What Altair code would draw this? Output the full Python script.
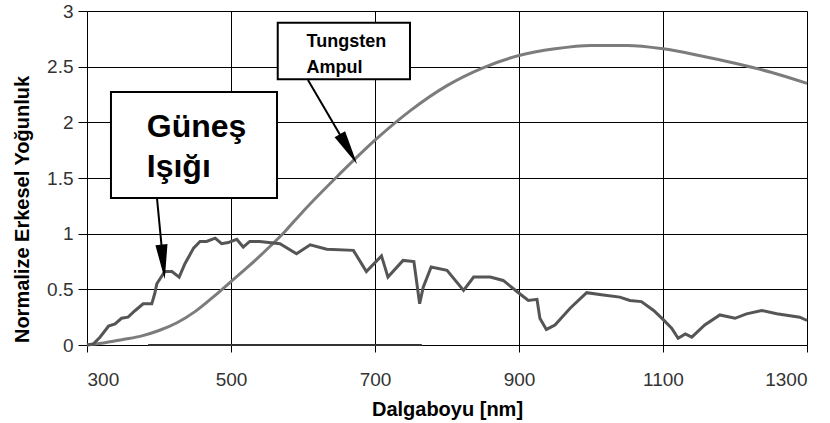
import altair as alt
import pandas as pd

# Solar spectrum (Güneş Işığı)
solar_nm = [300, 309, 318, 330, 339, 348, 357, 367, 378, 390, 394, 397, 408, 418, 428, 436, 448, 457, 466, 478,
            487, 496, 508, 517, 526, 540, 568, 591, 610, 633, 670, 688, 709, 718, 739, 754, 762, 767, 778, 800,
            823, 837, 860, 878, 901, 913, 925, 929, 938, 950, 971, 994, 1017, 1040, 1054, 1070, 1087, 1100, 1112, 1121,
            1131, 1140, 1158, 1179, 1200, 1216, 1237, 1258, 1290, 1300]
solar_val = [0.0, 0.01, 0.07, 0.17, 0.19, 0.24, 0.25, 0.31, 0.37, 0.37, 0.46, 0.55, 0.66, 0.66, 0.61, 0.73, 0.87, 0.93, 0.93, 0.96,
             0.91, 0.92, 0.95, 0.88, 0.93, 0.93, 0.91, 0.82, 0.90, 0.86, 0.85, 0.66, 0.80, 0.61, 0.76, 0.75, 0.37, 0.52, 0.70, 0.67,
             0.49, 0.61, 0.61, 0.58, 0.46, 0.40, 0.41, 0.24, 0.14, 0.18, 0.33, 0.47, 0.45, 0.43, 0.40, 0.39, 0.31, 0.23, 0.15, 0.06,
             0.10, 0.07, 0.18, 0.27, 0.24, 0.28, 0.31, 0.28, 0.25, 0.22]

# Tungsten lamp (Tungsten Ampul)
tung_nm = [300, 325, 350, 375, 400, 425, 450, 475, 500, 525, 550, 575, 600, 650, 700, 750, 800, 850, 900, 950,
           1000, 1050, 1100, 1150, 1200, 1250, 1300]
tung_val = [0.0, 0.02, 0.05, 0.08, 0.13, 0.20, 0.30, 0.43, 0.57, 0.71, 0.86, 1.02, 1.20, 1.53, 1.84, 2.11, 2.33, 2.49, 2.60, 2.66,
            2.69, 2.69, 2.66, 2.60, 2.53, 2.45, 2.35]

# flat trace along zero
base_nm = [385, 765]
base_val = [0.0, 0.0]

# annotation boxes (data units)
box_x = [333.3, 564.9]
box_x2 = [563.9, 748.6]
box_y = [2.272, 2.895]
box_y2 = [1.320, 2.387]

# annotation texts
txt_label = ["Güneş", "Işığı", "Tungsten", "Ampul"]
txt_x = [383, 383, 605, 605]
txt_y = [1.868, 1.513, 2.68, 2.44]
txt_size = [32, 32, 18, 18]

# arrows: shaft start/end and head
arr_x = [397.2, 606.9]
arr_y = [1.320, 2.380]
arr_x2 = [405.7, 663.2]
arr_y2 = [0.746, 1.759]
arr_angle = [354.5, 330]

xs = alt.Scale(domain=[300, 1300], nice=False, zero=False)
ys = alt.Scale(domain=[0, 3], nice=False)

FONT = "Liberation Sans"

xaxis = alt.Axis(values=[300, 500, 700, 900, 1100, 1300], format="d", title="Dalgaboyu [nm]",
                 grid=True, gridColor="#000", gridOpacity=1, gridWidth=1,
                 domainColor="#000", tickColor="#000", tickSize=7,
                 labelFont=FONT, labelFontSize=19, labelColor="#333", labelPadding=18,
                 titleFont=FONT, titleFontSize=20, titleFontWeight="bold", titleColor="#000",
                 titleY=70, titleBaseline="alphabetic")
yaxis = alt.Axis(values=[0, 0.5, 1, 1.5, 2, 2.5, 3], format="~g", title="Normalize Erkesel Yoğunluk",
                 grid=True, gridColor="#000", gridOpacity=1, gridWidth=1,
                 domainColor="#000", tickColor="#000", tickSize=9,
                 labelFont=FONT, labelFontSize=19, labelColor="#333", labelPadding=5,
                 titleFont=FONT, titleFontSize=20, titleFontWeight="bold", titleColor="#000",
                 titleAngle=270, titleX=-65, titleY=198, titleAlign="center", titleBaseline="middle")

solar_df = pd.DataFrame({"nm": solar_nm, "v": solar_val})
tung_df = pd.DataFrame({"nm": tung_nm, "v": tung_val})

solar = alt.Chart(solar_df).mark_line(strokeWidth=3, color="#555555").encode(
    x=alt.X("nm:Q", scale=xs, axis=xaxis), y=alt.Y("v:Q", scale=ys, axis=yaxis))
tung = alt.Chart(tung_df).mark_line(strokeWidth=3, color="#7c7c7c", interpolate="monotone").encode(
    x=alt.X("nm:Q", scale=xs), y=alt.Y("v:Q", scale=ys))

zero_df = pd.DataFrame({"nm": base_nm, "v": base_val})
zero_line = alt.Chart(zero_df).mark_line(color="#333", strokeWidth=2).encode(
    x=alt.X("nm:Q", scale=xs), y=alt.Y("v:Q", scale=ys))

box_df = pd.DataFrame({"x": box_x, "x2": box_x2, "y": box_y, "y2": box_y2})
boxes = alt.Chart(box_df).mark_rect(fill="white", stroke="black", strokeWidth=2).encode(
    x=alt.X("x:Q", scale=xs), x2="x2:Q", y=alt.Y("y:Q", scale=ys), y2="y2:Q")

txt_df = pd.DataFrame({"label": txt_label, "x": txt_x, "y": txt_y, "size": txt_size})
texts = alt.Chart(txt_df).mark_text(align="left", baseline="alphabetic", font=FONT, fontWeight="bold",
                                    color="black").encode(
    x=alt.X("x:Q", scale=xs), y=alt.Y("y:Q", scale=ys), text="label:N",
    size=alt.Size("size:Q", scale=None, legend=None))

arr_df = pd.DataFrame({"x": arr_x, "y": arr_y, "x2": arr_x2, "y2": arr_y2, "angle": arr_angle})
shafts = alt.Chart(arr_df).mark_rule(color="black", strokeWidth=2).encode(
    x=alt.X("x:Q", scale=xs), y=alt.Y("y:Q", scale=ys), x2="x2:Q", y2="y2:Q")
heads = alt.Chart(arr_df).mark_point(shape="M-0.35,-1L0.35,-1L0,1Z", filled=True, color="black",
                                     size=1200, opacity=1, strokeWidth=0).encode(
    x=alt.X("x2:Q", scale=xs), y=alt.Y("y2:Q", scale=ys),
    angle=alt.Angle("angle:Q", scale=None))

chart = alt.layer(zero_line, tung, solar, boxes, texts, shafts, heads).properties(
    width=720, height=334,
    autosize=alt.AutoSizeParams(type="none"),
    padding={"left": 87, "top": 11, "right": 23, "bottom": 78},
).configure_view(stroke="black", strokeWidth=1).configure(background="white")

chart.save("out.html", embed_options={"renderer": "svg", "actions": False})
